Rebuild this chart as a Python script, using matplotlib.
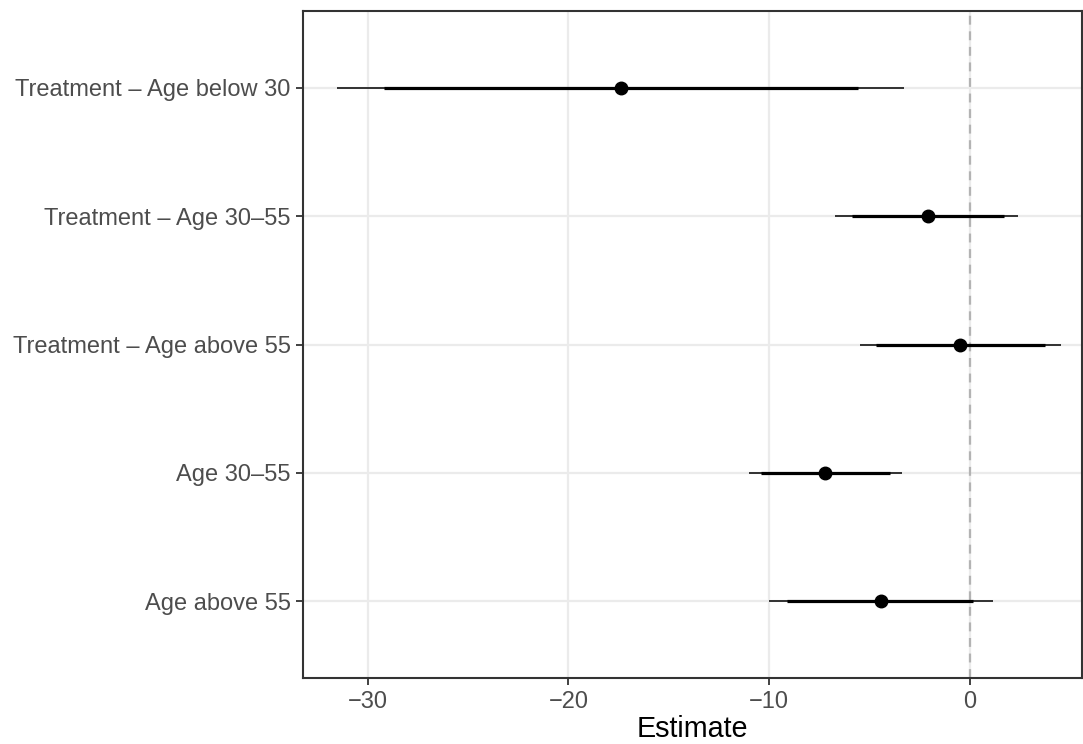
import matplotlib
matplotlib.use('Agg')
import matplotlib.pyplot as plt

plt.rcParams['font.family'] = ['Liberation Sans', 'DejaVu Sans']

terms = ['Treatment \u2013 Age below 30', 'Treatment \u2013 Age 30\u201355',
         'Treatment \u2013 Age above 55', 'Age 30\u201355', 'Age above 55']
estimate = [-17.4, -2.1, -0.5, -7.2, -4.45]
lo_thick = [-29.2, -5.9, -4.7, -10.4, -9.1]
hi_thick = [-5.6, 1.7, 3.75, -4.0, 0.15]
lo_thin = [-31.5, -6.7, -5.5, -11.0, -10.0]
hi_thin = [-3.3, 2.4, 4.55, -3.4, 1.15]

fig = plt.figure(figsize=(10.83, 7.44), dpi=100)
ax = fig.add_axes([0.2801, 0.0887, 0.7190, 0.8965])

ypos = [5, 4, 3, 2, 1]

ax.axvline(0, color='#B3B3B3', linestyle=(0, (4, 3)), linewidth=1.6, zorder=1)
ax.hlines(ypos, lo_thin, hi_thin, color='black', linewidth=1.1, zorder=3)
ax.hlines(ypos, lo_thick, hi_thick, color='black', linewidth=2.3, zorder=3)
ax.plot(estimate, ypos, 'o', color='black', markersize=9, zorder=4)

ax.set_xlim(-33.2, 5.58)
ax.set_ylim(0.4, 5.6)
ax.set_xticks([-30, -20, -10, 0])
ax.set_xticklabels(['\u221230', '\u221220', '\u221210', '0'])
ax.set_yticks(ypos)
ax.set_yticklabels(terms)

ax.grid(True, color='#EBEBEB', linewidth=1.6, zorder=0)
ax.set_axisbelow(True)
for s in ax.spines.values():
    s.set_color('#333333')
    s.set_linewidth(1.5)

ax.tick_params(axis='both', colors='#333333', length=5, width=1.3,
               labelcolor='#4D4D4D', labelsize=17, pad=4)
ax.set_xlabel('Estimate', fontsize=20.7, color='black', labelpad=2)

plt.savefig('out.png', dpi=100)
